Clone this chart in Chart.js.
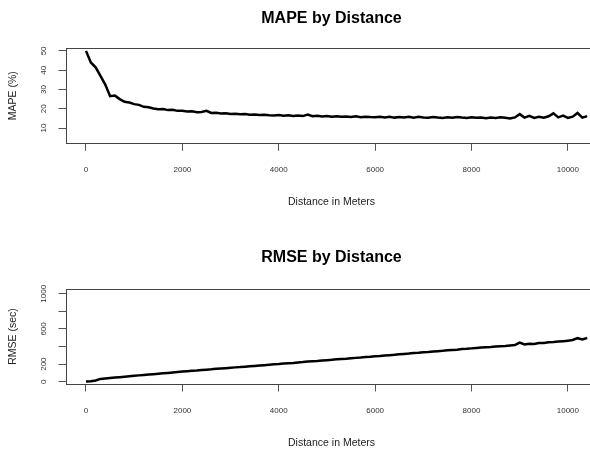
<!DOCTYPE html>
<html>
<head>
<meta charset="utf-8">
<script src="https://cdn.jsdelivr.net/npm/chart.js@4"></script>
<style>
  html, body { margin: 0; padding: 0; background: #fff; }
  body { width: 590px; height: 449px; overflow: hidden; position: relative; }
  canvas { position: absolute; left: 0; }
  #mapeChart { top: 0; }
  #rmseChart { top: 224px; }
</style>
</head>
<body>
<canvas id="mapeChart" width="663" height="224"></canvas>
<canvas id="rmseChart" width="663" height="235"></canvas>
<script>
// distance (m)
const distance = [
  0, 100, 200, 300, 400, 500, 600, 700, 800, 900,
  1000, 1100, 1200, 1300, 1400, 1500, 1600, 1700, 1800, 1900,
  2000, 2100, 2200, 2300, 2400, 2500, 2600, 2700, 2800, 2900,
  3000, 3100, 3200, 3300, 3400, 3500, 3600, 3700, 3800, 3900,
  4000, 4100, 4200, 4300, 4400, 4500, 4600, 4700, 4800, 4900,
  5000, 5100, 5200, 5300, 5400, 5500, 5600, 5700, 5800, 5900,
  6000, 6100, 6200, 6300, 6400, 6500, 6600, 6700, 6800, 6900,
  7000, 7100, 7200, 7300, 7400, 7500, 7600, 7700, 7800, 7900,
  8000, 8100, 8200, 8300, 8400, 8500, 8600, 8700, 8800, 8900,
  9000, 9100, 9200, 9300, 9400, 9500, 9600, 9700, 9800, 9900,
  10000, 10100, 10200, 10300, 10400
];

// MAPE (%)
const mape = [
  50.0, 44.0, 41.5, 37.0, 32.5, 26.5, 26.8, 25.0, 23.6, 23.2,
  22.4, 22.0, 21.0, 20.8, 20.1, 19.7, 19.9, 19.3, 19.5, 18.9,
  18.9, 18.6, 18.7, 18.2, 18.3, 18.9, 17.8, 17.9, 17.5, 17.7,
  17.3, 17.4, 17.1, 17.3, 16.9, 17.0, 16.7, 16.9, 16.6, 16.5,
  16.7, 16.4, 16.6, 16.3, 16.5, 16.2, 17.0, 16.1, 16.4, 16.0,
  16.2, 15.9, 16.1, 15.8, 16.0, 15.7, 16.1, 15.6, 15.9, 15.7,
  15.6, 15.9, 15.5, 15.8, 15.4, 15.7, 15.5, 15.9, 15.4, 15.8,
  15.5, 15.3, 15.7, 15.4, 15.2, 15.6, 15.3, 15.7, 15.4, 15.2,
  15.6, 15.3, 15.5, 15.1, 15.4, 15.2, 15.6, 15.3, 15.0, 15.5,
  17.2, 15.4, 16.3, 15.2, 15.8, 15.3, 16.1, 17.6, 15.5, 16.4,
  15.2, 15.9, 17.8, 15.4, 16.2
];

// RMSE (sec)
const rmse = [
  2, 6, 14, 32, 37, 42, 47, 52, 57, 62,
  67, 72, 77, 81, 86, 91, 95, 100, 106, 110,
  115, 119, 124, 127, 133, 137, 141, 147, 150, 154,
  158, 163, 166, 171, 177, 180, 184, 188, 193, 198,
  201, 206, 211, 214, 219, 223, 229, 232, 236, 242,
  245, 249, 255, 258, 262, 268, 271, 275, 281, 284,
  289, 293, 299, 302, 306, 312, 316, 320, 326, 329,
  334, 337, 344, 347, 351, 357, 361, 364, 371, 374,
  379, 383, 388, 391, 394, 400, 404, 407, 413, 416,
  445, 423, 431, 429, 439, 440, 448, 451, 456, 461,
  467, 474, 495, 481, 497
];

const xTicks = [0, 2000, 4000, 6000, 8000, 10000];
const mapeTicks = [10, 20, 30, 40, 50];
const rmseTicks = [0, 200, 400, 600, 800, 1000];
const rmseTickLabels = ['0', '200', '', '600', '', '1000'];

const FONT = '"Liberation Sans", Arial, Helvetica, sans-serif';

// R-style box round the plot region
const boxPlugin = {
  id: 'box',
  afterDraw(chart) {
    const a = chart.chartArea;
    const ctx = chart.ctx;
    ctx.save();
    ctx.strokeStyle = '#444';
    ctx.lineWidth = 1;
    ctx.strokeRect(Math.round(a.left) + 0.5, Math.round(a.top) + 0.5,
      Math.round(a.right - a.left), Math.round(a.bottom - a.top));
    ctx.restore();
  }
};

function makePanel(id, opt) {
  return new Chart(document.getElementById(id), {
    type: 'line',
    data: {
      datasets: [{
        data: distance.map((d, i) => ({ x: d, y: opt.values[i] })),
        borderColor: '#000',
        borderWidth: 2.5,
        pointRadius: 0,
        tension: 0,
        fill: false
      }]
    },
    options: {
      responsive: false,
      animation: false,
      devicePixelRatio: 1,
      // plot region 66..597, a little past the page's right edge
      layout: { padding: { left: 0, right: 66, top: 0, bottom: 0 } },
      plugins: {
        legend: { display: false },
        tooltip: { enabled: false },
        title: {
          display: true,
          fullSize: false,
          text: opt.title,
          color: '#000',
          font: { family: FONT, size: 16, weight: 'bold' },
          padding: opt.titlePad
        }
      },
      scales: {
        x: {
          type: 'linear',
          min: -415,
          max: 10604,
          afterBuildTicks: s => { s.ticks = xTicks.map(v => ({ value: v })); },
          afterFit: s => { s.height = opt.xHeight; },
          grid: { drawOnChartArea: false, drawTicks: true, tickLength: 7.5, tickColor: '#555', tickWidth: 1 },
          border: { display: false },
          ticks: {
            color: '#333',
            padding: opt.xTickPad,
            maxRotation: 0,
            autoSkip: false,
            font: { family: FONT, size: 8 },
            callback: v => String(v)
          },
          title: {
            display: true,
            text: 'Distance in Meters',
            color: '#222',
            font: { family: FONT, size: 10.5 },
            padding: { top: 0, bottom: opt.xTitlePad }
          }
        },
        y: {
          type: 'linear',
          min: opt.yMin,
          max: opt.yMax,
          afterBuildTicks: s => { s.ticks = opt.yTicks.map(v => ({ value: v })); },
          afterFit: s => { s.width = 66; },
          grid: { drawOnChartArea: false, drawTicks: true, tickLength: 7.5, tickColor: '#555', tickWidth: 1 },
          border: { display: false },
          ticks: {
            color: '#333',
            padding: opt.yTickPad,
            minRotation: 90,
            maxRotation: 90,
            crossAlign: 'center',
            autoSkip: false,
            font: { family: FONT, size: 8 },
            callback: opt.yLabel
          },
          title: {
            display: true,
            text: opt.yTitle,
            color: '#222',
            font: { family: FONT, size: 10.5 },
            padding: { top: 6.7, bottom: 0 }
          }
        }
      }
    },
    plugins: [boxPlugin]
  });
}

makePanel('mapeChart', {
  title: 'MAPE by Distance',
  values: mape,
  titlePad: { top: 9, bottom: 19.8 },
  xHeight: 80.7,
  xTickPad: 13.9,
  xTitlePad: 15.7,
  yMin: 2.08,
  yMax: 51.5,
  yTicks: mapeTicks,
  yTickPad: 10.5,
  yLabel: v => String(v),
  yTitle: 'MAPE (%)'
});

makePanel('rmseChart', {
  title: 'RMSE by Distance',
  values: rmse,
  titlePad: { top: 24.4, bottom: 21.4 },
  xHeight: 75,
  xTickPad: 14.7,
  xTitlePad: 9.7,
  yMin: -26,
  yMax: 1054,
  yTicks: rmseTicks,
  yTickPad: 6.1,
  yLabel: (v, i) => rmseTickLabels[i],
  yTitle: 'RMSE (sec)'
});
</script>
</body>
</html>
